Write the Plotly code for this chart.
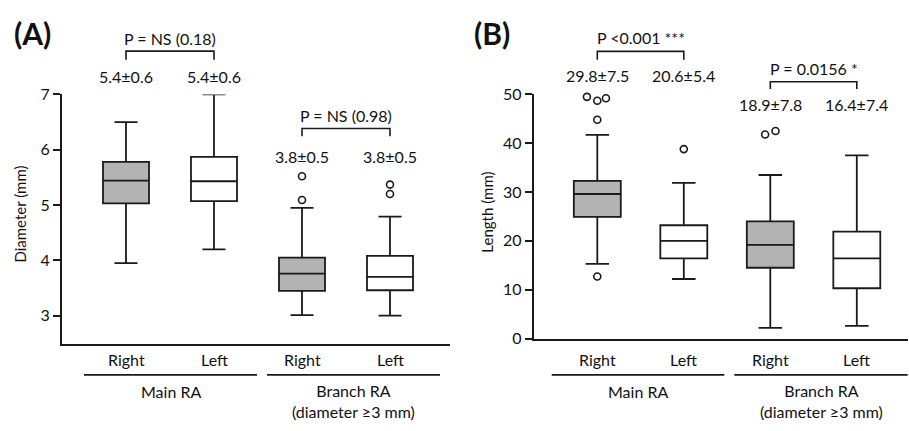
import plotly.graph_objects as go

W, H = 909, 431

# ---------------- data ----------------
sides = ["Right", "Left", "Right", "Left"]
groups = ["Main RA", "Branch RA<br>(diameter ≥3 mm)"]

# Panel A: diameter (mm)
diam_q1 = [5.03, 5.07, 3.45, 3.46]
diam_med = [5.44, 5.43, 3.76, 3.70]
diam_q3 = [5.78, 5.87, 4.05, 4.08]
diam_lo = [3.95, 4.20, 3.01, 3.00]
diam_hi = [6.50, 7.00, 4.95, 4.79]
diam_out = [[], [], [5.52, 5.09], [5.37, 5.20]]
diam_out_jit = [[], [], [0, 0], [0, 0]]
diam_stats = ["5.4±0.6", "5.4±0.6", "3.8±0.5", "3.8±0.5"]
diam_p = ["P = NS (0.18)", "P = NS (0.98)"]

# Panel B: length (mm)
len_q1 = [24.9, 16.4, 14.5, 10.3]
len_med = [29.6, 20.0, 19.2, 16.4]
len_q3 = [32.3, 23.2, 24.0, 21.9]
len_lo = [15.3, 12.2, 2.2, 2.6]
len_hi = [41.7, 31.9, 33.5, 37.5]
len_out = [[49.5, 48.7, 49.2, 44.8, 12.7], [38.8], [41.8, 42.5], []]
len_out_jit = [[-0.12, 0, 0.10, 0, 0], [0], [-0.06, 0.06], []]
len_stats = ["29.8±7.5", "20.6±5.4", "18.9±7.8", "16.4±7.4"]
len_p = ["P <0.001 ***", "P = 0.0156 *"]

positions = [1, 2, 3, 4]
fills = ["#b3b3b3", "#ffffff", "#b3b3b3", "#ffffff"]

FONT = "Lato"
TXT = "#111111"
LC = "#1a1a1a"

def py(p):  # pixel y -> paper
    return 1 - p / H

def px(p):
    return p / W

fig = go.Figure()

def add_panel(xa, ya, q1, med, q3, lo, hi, outs, jits, width):
    for i, pos in enumerate(positions):
        fig.add_trace(go.Box(
            x=[pos], q1=[q1[i]], median=[med[i]], q3=[q3[i]],
            lowerfence=[lo[i]], upperfence=[hi[i]],
            width=width, whiskerwidth=0.5,
            fillcolor=fills[i], line=dict(color=LC, width=1.8),
            boxpoints=False, showlegend=False, xaxis=xa, yaxis=ya,
            hoverinfo="skip"))
        if outs[i]:
            fig.add_trace(go.Scatter(
                x=[pos + j for j in jits[i]], y=outs[i], mode="markers",
                marker=dict(symbol="circle-open", size=7, color=LC,
                            line=dict(width=1.6, color=LC)),
                cliponaxis=False,
                showlegend=False, xaxis=xa, yaxis=ya, hoverinfo="skip"))

add_panel("x", "y", diam_q1, diam_med, diam_q3, diam_lo, diam_hi,
          diam_out, diam_out_jit, 0.523)
add_panel("x2", "y2", len_q1, len_med, len_q3, len_lo, len_hi,
          len_out, len_out_jit, 0.543)

# axis geometry (pixels)
A_x0, A_x1, A_y0, A_y1 = 62, 450, 88.3, 349.3
B_x0, B_x1, B_y0, B_y1 = 533.7, 908, 88.3, 343.7
A_a, A_b = 38, 88.0      # pixel = a + b*pos
B_a, B_b = 510.8, 86.5

axis_common = dict(showgrid=False, zeroline=False, showline=True,
                   linecolor=LC, linewidth=2)
ytick_common = dict(ticks="outside", ticklen=7, tickwidth=1.8, tickcolor=LC,
                    tickfont=dict(family=FONT, size=16, color=TXT))

fig.update_layout(
    width=W, height=H, margin=dict(l=0, r=0, t=0, b=0),
    paper_bgcolor="white", plot_bgcolor="white",
    xaxis=dict(domain=[px(A_x0), px(A_x1)],
               range=[(A_x0 - A_a) / A_b, (A_x1 - A_a) / A_b],
               showticklabels=False, ticks="", anchor="y", **axis_common),
    yaxis=dict(domain=[py(A_y1), py(A_y0)], range=[3 - (A_y1 - 319.7) / 58, 7],
               tickvals=[3, 4, 5, 6, 7], anchor="x", **axis_common, **ytick_common),
    xaxis2=dict(domain=[px(B_x0), px(B_x1)],
                range=[(B_x0 - B_a) / B_b, (B_x1 - B_a) / B_b],
                showticklabels=False, ticks="", anchor="y2", **axis_common),
    yaxis2=dict(domain=[py(B_y1), py(B_y0)], range=[0, 50],
                tickvals=[0, 10, 20, 30, 40, 50], anchor="x2",
                **axis_common, **ytick_common),
)

ann = []
shapes = []

def txt(x, y, s, xref="paper", size=16, **kw):
    d = dict(x=x, y=y, xref=xref, yref="paper", text=s, showarrow=False,
             font=dict(family=FONT, size=size, color=TXT),
             xanchor="center", yanchor="middle")
    d.update(kw)
    ann.append(d)

def bracket(xref, x0, x1, ytop, ybot):
    shapes.append(dict(type="path", xref=xref, yref="paper",
                       path=f"M {x0},{py(ybot)} L {x0},{py(ytop)} L {x1},{py(ytop)} L {x1},{py(ybot)}",
                       line=dict(color=LC, width=1.6)))

def hline(xref, x0, x1, y):
    shapes.append(dict(type="line", xref=xref, yref="paper", x0=x0, x1=x1,
                       y0=py(y), y1=py(y), line=dict(color=LC, width=1.6)))

# Panel labels
txt(px(32), py(24), "<b>(A)</b>", size=30)
txt(px(492), py(24), "<b>(B)</b>", size=30)

# Axis titles
txt(px(20), py(214), "Diameter (mm)", size=15, textangle=-90)
txt(px(487), py(212), "Length (mm)", size=15, textangle=-90)

# Panel A annotations
for i, pos in enumerate(positions):
    ystat = 70 if i < 2 else 153
    txt(pos, py(ystat), diam_stats[i], xref="x")
    txt(pos, py(366), sides[i], xref="x")
txt(1.5, py(30), diam_p[0], xref="x")
txt(3.5, py(110), diam_p[1], xref="x")
bracket("x", 1, 2, 43, 52)
bracket("x", 3, 4, 124, 132)
hline("paper", px(84), px(257), 381.7)
hline("paper", px(267), px(440), 381.7)
txt(px((84 + 257) / 2), py(399), groups[0])
txt(px((267 + 440) / 2), py(409), groups[1])

# Panel B annotations
for i, pos in enumerate(positions):
    ystat = 68 if i < 2 else 99
    txt(pos, py(ystat), len_stats[i], xref="x2")
    txt(pos, py(366), sides[i], xref="x2")
txt(1.5, py(29), len_p[0], xref="x2")
txt(3.5, py(61), len_p[1], xref="x2")
bracket("x2", 1, 2, 43.3, 52)
bracket("x2", 3, 4, 75, 82.7)
hline("paper", px(551.7), px(724.3), 381.7)
hline("paper", px(734.3), px(907.7), 381.7)
txt(px((551.7 + 724.3) / 2), py(399), groups[0])
txt(px((734.3 + 907.7) / 2), py(409), groups[1])

fig.update_layout(annotations=ann, shapes=shapes)
fig.write_html("out.html")
